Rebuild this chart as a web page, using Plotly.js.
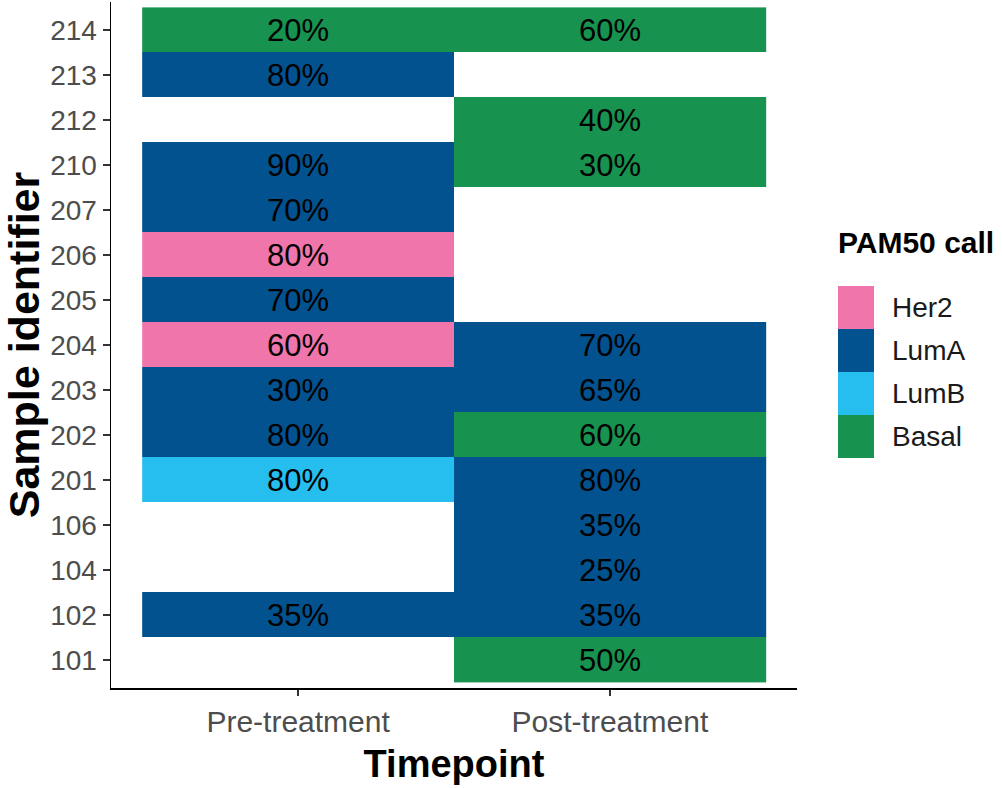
<!DOCTYPE html>
<html>
<head>
<meta charset="utf-8">
<script src="https://cdn.plot.ly/plotly-3.0.1.min.js"></script>
<style>html,body{margin:0;padding:0;background:#fff}#chart{width:1002px;height:788px}</style>
</head>
<body>
<div id="chart"></div>
<script>
// ---- data ----
var timepoints = ['Pre-treatment', 'Post-treatment'];
var samples = ['101','102','104','106','201','202','203','204','205','206','207','210','212','213','214'];
var preCall  = [null,'LumA',null,null,'LumB','LumA','LumA','Her2','LumA','Her2','LumA','LumA',null,'LumA','Basal'];
var prePct   = [null,'35%',null,null,'80%','80%','30%','60%','70%','80%','70%','90%',null,'80%','20%'];
var postCall = ['Basal','LumA','LumA','LumA','LumA','Basal','LumA','LumA',null,null,null,'Basal','Basal',null,'Basal'];
var postPct  = ['50%','35%','25%','35%','80%','60%','65%','70%',null,null,null,'30%','40%',null,'60%'];
var classes = ['Her2','LumA','LumB','Basal'];
var classColors = ['#F075AB','#02528F','#25BEEE','#17924F'];

// ---- build ----
var FONT = 'Liberation Sans, Arial, sans-serif';
function idx(c){ return c === null ? null : classes.indexOf(c); }
var z = samples.map(function(s,i){ return [idx(preCall[i]), idx(postCall[i])]; });
var txt = samples.map(function(s,i){ return [prePct[i] || '', postPct[i] || '']; });

var cs = [];
classColors.forEach(function(c,i){ cs.push([i/4, c]); cs.push([(i+1)/4, c]); });

var main = {
  type: 'heatmap', x: timepoints, y: samples, z: z, text: txt,
  texttemplate: '%{text}', textfont: {family: FONT, size: 31, color: '#000'},
  colorscale: cs, zmin: -0.5, zmax: 3.5, showscale: false, hoverinfo: 'skip',
  xaxis: 'x', yaxis: 'y'
};

var legClasses = classes.slice().reverse();
var legend = {
  type: 'heatmap', x: ['key'], y: legClasses,
  z: legClasses.map(function(c){ return [classes.indexOf(c)]; }),
  colorscale: cs, zmin: -0.5, zmax: 3.5, showscale: false, hoverinfo: 'skip',
  xaxis: 'x2', yaxis: 'y2'
};

var W = 891, H = 686;
function px(x){ return (x - 111) / W; }
function py(y){ return (688 - y) / H; }

var annotations = classes.map(function(c){
  return {xref: 'paper', yref: 'y2', x: px(890), y: c, xanchor: 'left', yanchor: 'middle',
    text: c, showarrow: false, font: {family: FONT, size: 28, color: '#1a1a1a'}};
});
annotations.push({xref: 'paper', yref: 'paper', x: px(836), y: py(243), xanchor: 'left', yanchor: 'middle',
  text: '<b>PAM50 call</b>', showarrow: false, font: {family: FONT, size: 30, color: '#000'}});

var layout = {
  width: 1002, height: 788,
  margin: {l: 111, r: 0, t: 2, b: 100, pad: 0},
  paper_bgcolor: '#fff', plot_bgcolor: '#fff',
  showlegend: false,
  xaxis: {
    domain: [0, 686 / W], range: [-0.6, 1.6], type: 'category',
    showgrid: false, zeroline: false, showline: true, linecolor: '#000', linewidth: 1.5,
    ticks: 'outside', ticklen: 6, tickcolor: '#333', tickwidth: 1.5,
    tickfont: {family: FONT, size: 30, color: '#4D4D4D'},
    title: {text: '<b>Timepoint</b>', standoff: 14, font: {family: FONT, size: 38, color: '#000'}},
    fixedrange: true
  },
  yaxis: {
    domain: [0, 1], range: [-0.62, 14.62], type: 'category',
    showgrid: false, zeroline: false, showline: true, linecolor: '#000', linewidth: 1.5,
    ticks: 'outside', ticklen: 7, tickcolor: '#333', tickwidth: 1.5,
    tickfont: {family: FONT, size: 28, color: '#4D4D4D'},
    title: {text: '<b>Sample identifier</b>', standoff: 14, font: {family: FONT, size: 43, color: '#000'}},
    fixedrange: true
  },
  xaxis2: {domain: [px(838), px(874)], anchor: 'y2', visible: false, fixedrange: true},
  yaxis2: {domain: [py(458), py(286)], anchor: 'x2', visible: false, type: 'category', range: [-0.5, 3.5], fixedrange: true},
  annotations: annotations
};

Plotly.newPlot('chart', [main, legend], layout, {displayModeBar: false, staticPlot: true});
</script>
</body>
</html>
